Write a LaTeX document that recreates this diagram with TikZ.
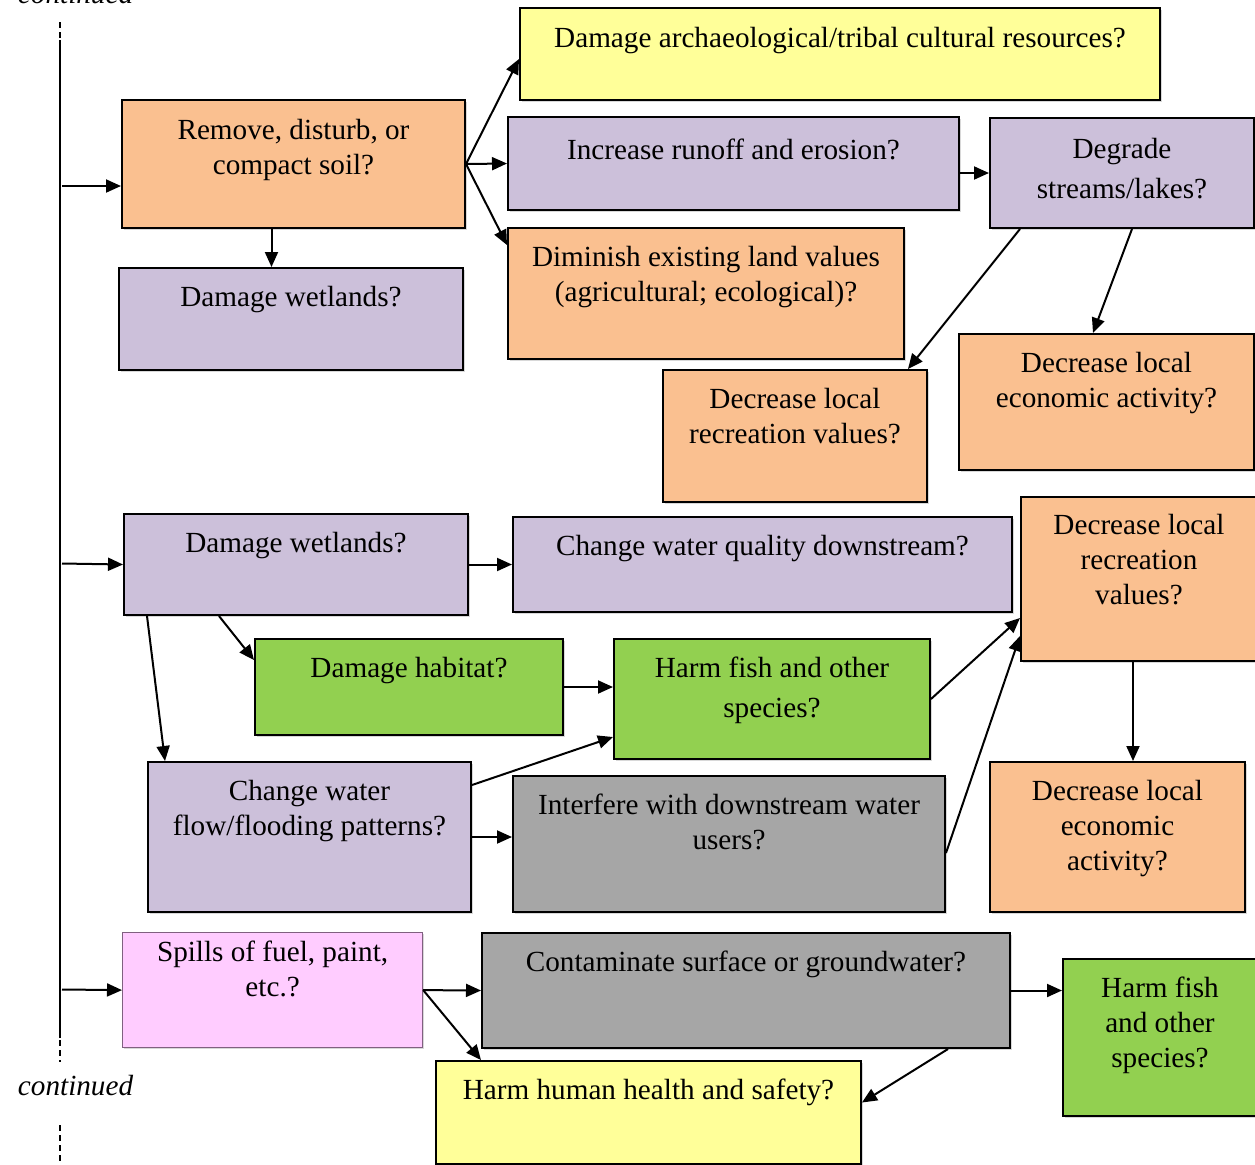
\documentclass[tikz,border=0pt]{standalone}
\usepackage{fontspec}
\setmainfont{Liberation Serif}
\usetikzlibrary{arrows.meta,shadows}

\definecolor{tanbox}{HTML}{FAC090}
\definecolor{lilac}{HTML}{CCC0DA}
\definecolor{lemon}{HTML}{FFFF99}
\definecolor{leaf}{HTML}{92D050}
\definecolor{stone}{HTML}{A6A6A6}
\definecolor{rosy}{HTML}{FFCCFF}
\definecolor{rosyline}{RGB}{128,96,128}

\newdimen\pxu \pxu=0.5pt
% box text: width, height, first baseline (px), text
\newcommand{\boxtxt}[4]{\parbox[t][#2\pxu][t]{#1\pxu}{\centering\rule{0pt}{#3\pxu}#4}}

\begin{document}
\begin{tikzpicture}[x=0.5pt,y=-0.5pt,>={Triangle[length=7.5pt,width=6.5pt]},line width=1pt,
    box/.style={draw,line width=1pt,inner sep=0pt,anchor=north west,
        drop shadow={shadow xshift=0.8pt,shadow yshift=-0.8pt,fill=black!30},
        font=\fontsize{14.6}{17.5}\selectfont}]
    \useasboundingbox (0,0) rectangle (1255,1164);

    % left margin line
    \draw[dashed,dash pattern=on 3pt off 2pt] (60,22) -- (60,95);
    \draw (60,40) -- (60,1038);
    \draw[dashed,dash pattern=on 3pt off 2pt] (60,1040) -- (60,1062);
    \draw[dashed,dash pattern=on 3pt off 2pt] (60,1125) -- (60,1164);
    \node[anchor=base west,inner sep=0pt,font=\fontsize{14.6}{17.5}\selectfont\itshape] (cont1) at (17,3) {continued};
    \node[anchor=base west,inner sep=0pt,font=\fontsize{14.6}{17.5}\selectfont\itshape] (cont2) at (17,1095) {continued};
    \coordinate (in1) at (62,186);
    \coordinate (in2) at (62,563.5);
    \coordinate (in3) at (62,989.5);

    % soil branch
    \node[box,fill=lemon] (arch) at (519,7) {\boxtxt{640}{92}{39}{Damage archaeological/tribal cultural resources?}};
    \node[box,fill=tanbox] (soil) at (121,99) {\boxtxt{343}{128}{39}{Remove, disturb, or\\compact soil?}};
    \node[box,fill=lilac] (runoff) at (507,116) {\boxtxt{451}{93}{42}{Increase runoff and erosion?}};
    \node[box,fill=lilac] (degrade) at (989,117) {\boxtxt{264}{110}{40}{Degrade\\[2.5pt]streams/lakes?}};
    \node[box,fill=lilac] (wet1) at (118,267) {\boxtxt{344}{102}{38}{Damage wetlands?}};
    \node[box,fill=tanbox] (land) at (507,227) {\boxtxt{396}{131}{38}{Diminish existing land values\\(agricultural; ecological)?}};
    \node[box,fill=tanbox] (rec1) at (662,369) {\boxtxt{264}{132}{38}{Decrease local\\recreation values?}};
    \node[box,fill=tanbox] (econ1) at (958,333) {\boxtxt{295}{136}{38}{Decrease local\\economic activity?}};

    % wetlands branch
    \node[box,fill=lilac] (wet2) at (123,513) {\boxtxt{344}{101}{38}{Damage wetlands?}};
    \node[box,fill=lilac] (quality) at (512,516) {\boxtxt{499}{95}{38}{Change water quality downstream?}};
    \node[box,fill=tanbox] (rec2) at (1020,496) {\boxtxt{236}{164}{37}{Decrease local\\recreation\\values?}};
    \node[box,fill=leaf] (habitat) at (254,638) {\boxtxt{308}{96}{38}{Damage habitat?}};
    \node[box,fill=leaf] (fish1) at (613,638) {\boxtxt{316}{120}{38}{Harm fish and other\\[2.5pt]species?}};
    \node[box,fill=lilac] (flow) at (147,761) {\boxtxt{323}{150}{38}{Change water\\flow/flooding patterns?}};
    \node[box,fill=stone] (users) at (512,775) {\boxtxt{432}{136}{38}{Interfere with downstream water\\users?}};
    \node[box,fill=tanbox] (econ2) at (989,761) {\boxtxt{255}{150}{38}{Decrease local\\economic\\activity?}};

    % spills branch
    \node[box,fill=rosy,draw=rosyline,line width=0.6pt] (spills) at (122,932) {\boxtxt{300}{115}{29}{Spills of fuel, paint,\\etc.?}};
    \node[box,fill=stone] (contam) at (481,932) {\boxtxt{528}{115}{38}{Contaminate surface or groundwater?}};
    \node[box,fill=leaf] (fish3) at (1062,958) {\boxtxt{194}{157}{38}{Harm fish\\and other\\species?}};
    \node[box,fill=lemon] (health) at (435,1060) {\boxtxt{425}{103}{38}{Harm human health and safety?}};

    \path[->]
        (in1) edge (in1 -| soil.west)
        (soil.east) edge ([yshift=-2.5pt]arch.west)
        (soil.east) edge (runoff.west)
        (soil.east) edge ([yshift=-9pt]land.north west)
        ([xshift=-11pt]soil.south) edge ([xshift=-11pt]soil.south |- wet1.north)
        (runoff.east |- degrade.west) edge (degrade.west)
        ([xshift=15.5pt]degrade.south west) edge ([xshift=-10pt]rec1.north east)
        ([xshift=5pt]degrade.south) edge ([xshift=-6.75pt]econ1.north)
        (in2) edge (wet2.west)
        (wet2.east) edge (quality.west)
        ([xshift=48pt]wet2.south west) edge ([yshift=-11pt]habitat.north west)
        ([xshift=12pt]wet2.south west) edge ([xshift=9pt]flow.north west)
        (habitat.east) edge (habitat.east -| fish1.west)
        (fish1.east) edge ([yshift=-19.5pt]rec2.west)
        ([yshift=-12pt]flow.north east) edge ([yshift=11.5pt]fish1.south west)
        (flow.east) edge (flow.east -| users.west)
        ([yshift=-4.5pt]users.east) edge ([yshift=-28.5pt]rec2.west)
        ([xshift=-3pt]rec2.south) edge ([xshift=-3pt]rec2.south |- econ2.north)
        (in3) edge (spills.west)
        (spills.east) edge (contam.west)
        (spills.east) edge ([xshift=23pt]health.north west)
        (contam.east) edge (contam.east -| fish3.west)
        ([xshift=-31.5pt]contam.south east) edge ([yshift=5pt]health.east)
        ;
\end{tikzpicture}
\end{document}
